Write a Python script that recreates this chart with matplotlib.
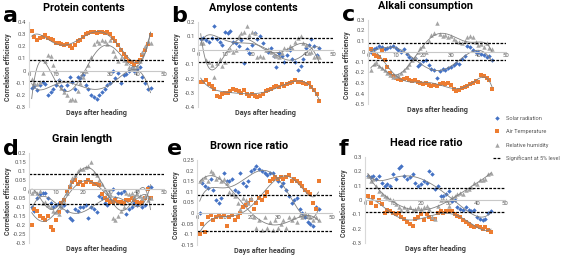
# correlation of rice quality traits with weather after heading (6 panels)
import numpy as np
import matplotlib.pyplot as plt
from matplotlib.lines import Line2D
from matplotlib.ticker import FuncFormatter, MultipleLocator

plt.rcParams['font.family'] = ['Roboto', 'DejaVu Sans']

days = list(range(1, 46))

# a - protein contents
a_solar = [-0.14, -0.13, -0.16, -0.12, -0.09, -0.11, -0.20, -0.18, -0.15, -0.12, -0.08, -0.13, -0.16, -0.12, -0.05,
           -0.09, -0.15, -0.05, -0.06, -0.04, -0.12, -0.15, -0.20, -0.22, -0.23, -0.20, -0.18, -0.15, -0.12, -0.10,
           0.00, -0.06, -0.02, -0.10, -0.04, -0.03, 0.00, 0.02, 0.00, 0.01, 0.03, -0.05, -0.10, -0.15, -0.14]
a_temp = [0.33, 0.28, 0.25, 0.27, 0.28, 0.29, 0.27, 0.26, 0.25, 0.23, 0.23, 0.22, 0.21, 0.22, 0.20,
          0.19, 0.21, 0.24, 0.25, 0.28, 0.30, 0.31, 0.32, 0.32, 0.31, 0.32, 0.32, 0.31, 0.32, 0.30,
          0.27, 0.24, 0.21, 0.17, 0.14, 0.11, 0.08, 0.07, 0.05, 0.07, 0.09, 0.13, 0.17, 0.22, 0.29]
a_hum = [-0.07, -0.10, -0.11, -0.09, -0.02, 0.08, 0.13, 0.12, 0.05, 0.00, -0.08, -0.14, -0.18, -0.20, -0.24,
         -0.23, -0.24, -0.17, -0.10, -0.05, 0.00, 0.05, 0.11, 0.22, 0.24, 0.23, 0.25, 0.24, 0.22, 0.25,
         0.16, 0.12, 0.08, 0.10, 0.09, 0.06, 0.03, 0.02, 0.02, 0.04, 0.08, 0.15, 0.20, 0.24, 0.23]

# b - amylose contents
b_solar = [0.08, 0.09, 0.07, 0.06, 0.09, 0.17, 0.08, 0.06, 0.04, 0.13, 0.12, 0.14, 0.06, 0.05, 0.03,
           0.07, -0.09, 0.01, -0.02, 0.04, 0.12, 0.08, 0.10, 0.05, 0.00, -0.01, 0.02, -0.04, -0.12, -0.02,
           -0.04, -0.08, -0.03, 0.00, -0.06, -0.08, -0.14, -0.11, -0.06, 0.02, 0.04, 0.08, 0.03, -0.03, 0.02]
b_temp = [-0.22, -0.22, -0.21, -0.24, -0.25, -0.27, -0.32, -0.33, -0.31, -0.30, -0.30, -0.29, -0.27, -0.28, -0.29,
          -0.30, -0.28, -0.31, -0.32, -0.31, -0.32, -0.33, -0.32, -0.31, -0.29, -0.28, -0.27, -0.26, -0.25, -0.26,
          -0.24, -0.25, -0.24, -0.23, -0.22, -0.21, -0.22, -0.22, -0.23, -0.24, -0.23, -0.26, -0.28, -0.31, -0.36]
b_hum = [0.05, 0.05, -0.07, -0.08, -0.10, -0.19, -0.09, -0.06, -0.11, -0.08, 0.00, 0.01, -0.01, 0.00, 0.10,
         0.12, 0.13, 0.17, 0.11, 0.13, 0.12, -0.05, -0.04, -0.05, 0.00, 0.01, -0.01, -0.03, -0.04, -0.05,
         -0.02, 0.02, 0.01, 0.03, 0.02, 0.06, 0.09, 0.10, 0.05, 0.04, -0.02, -0.01, -0.05, -0.04, -0.05]

# c - alkali consumption
c_solar = [0.00, 0.02, 0.03, 0.05, 0.04, 0.02, 0.03, 0.04, 0.05, 0.03, 0.01, 0.00, 0.02, -0.02, -0.05,
           -0.07, -0.06, -0.14, -0.12, -0.09, -0.08, -0.13, -0.17, -0.18, -0.25, -0.19, -0.17, -0.18, -0.16, -0.15,
           -0.13, -0.11, -0.12, -0.07, -0.04, 0.05, 0.04, 0.01, 0.00, 0.00, -0.02, -0.03, -0.05, -0.04, -0.08]
c_temp = [0.02, -0.02, -0.04, -0.05, 0.01, -0.08, -0.15, -0.20, -0.23, -0.25, -0.26, -0.27, -0.26, -0.25, -0.27,
          -0.28, -0.27, -0.29, -0.30, -0.31, -0.30, -0.32, -0.33, -0.32, -0.33, -0.31, -0.30, -0.31, -0.30, -0.32,
          -0.36, -0.38, -0.37, -0.35, -0.34, -0.33, -0.31, -0.30, -0.28, -0.29, -0.22, -0.23, -0.25, -0.27, -0.36]
c_hum = [-0.18, -0.12, -0.10, -0.14, -0.16, -0.18, -0.20, -0.22, -0.24, -0.23, -0.22, -0.20, -0.18, -0.15, -0.12,
         -0.08, -0.05, 0.00, 0.03, 0.05, 0.00, 0.10, 0.16, 0.18, 0.27, 0.17, 0.15, 0.16, 0.14, 0.15,
         0.12, 0.10, 0.09, 0.08, 0.10, 0.14, 0.15, 0.14, 0.09, 0.06, 0.07, 0.04, 0.08, 0.03, 0.02]

# d - grain length
d_solar = [-0.10, -0.12, -0.05, -0.03, -0.02, -0.02, -0.05, -0.08, -0.10, -0.09, -0.08, -0.10, -0.09, -0.12, -0.16,
           -0.17, -0.11, -0.12, -0.10, -0.10, -0.09, -0.16, -0.10, -0.11, -0.13, -0.04, -0.05, -0.08, -0.09, -0.06,
           0.00, -0.05, -0.02, -0.02, -0.01, -0.14, -0.11, -0.10, -0.08, -0.09, -0.08, -0.10, -0.09, 0.01, 0.01]
d_temp = [-0.20, -0.11, -0.12, -0.15, -0.16, -0.17, -0.15, -0.21, -0.23, -0.17, -0.13, -0.08, -0.06, -0.01, 0.01,
          0.04, 0.05, 0.03, 0.04, 0.02, 0.04, 0.05, 0.04, 0.03, 0.03, 0.02, -0.03, -0.05, -0.06, -0.07,
          -0.07, -0.06, -0.07, -0.07, -0.08, -0.06, -0.06, -0.05, -0.06, -0.07, -0.08, -0.07, -0.05, 0.00, -0.05]
d_hum = [-0.02, -0.01, -0.02, -0.01, -0.08, -0.07, -0.09, -0.10, -0.12, -0.13, -0.14, -0.10, -0.07, -0.02, 0.03,
         0.06, 0.08, 0.10, 0.11, 0.11, 0.12, 0.13, 0.15, 0.09, 0.08, 0.05, 0.03, 0.00, -0.02, -0.03,
         -0.16, -0.17, -0.15, -0.12, -0.10, -0.02, -0.03, -0.02, -0.04, -0.03, -0.04, -0.05, -0.04, -0.06, -0.05]

# e - brown rice ratio
e_solar = [0.00, 0.14, 0.13, 0.12, 0.16, 0.11, 0.06, 0.05, 0.07, 0.19, 0.15, 0.15, 0.16, 0.11, 0.10,
           0.19, 0.14, 0.13, 0.15, 0.20, 0.21, 0.22, 0.21, 0.20, 0.19, 0.18, 0.19, 0.19, 0.17, 0.15,
           0.13, 0.14, 0.11, 0.08, 0.05, 0.06, 0.07, 0.02, 0.00, -0.02, -0.04, -0.05, -0.06, 0.03, 0.02]
e_temp = [-0.10, -0.05, -0.09, -0.02, -0.01, -0.03, -0.02, -0.01, -0.02, -0.01, -0.06, -0.02, -0.01, -0.03, -0.02,
          0.00, 0.03, 0.04, 0.05, 0.06, 0.02, 0.05, 0.07, 0.06, 0.08, 0.10, 0.15, 0.16, 0.17, 0.16,
          0.17, 0.16, 0.17, 0.18, 0.15, 0.16, 0.15, 0.14, 0.13, 0.11, 0.10, 0.09, 0.05, 0.02, 0.15]
e_hum = [0.15, 0.16, 0.17, 0.15, 0.20, 0.19, 0.16, 0.17, 0.15, 0.16, 0.14, 0.10, 0.09, 0.08, 0.05,
         0.02, 0.07, 0.06, 0.05, 0.07, -0.02, -0.07, -0.03, -0.08, -0.02, -0.07, -0.04, -0.08, -0.03, -0.07,
         -0.05, -0.03, -0.07, -0.02, -0.03, -0.02, -0.04, -0.01, -0.02, 0.00, -0.01, -0.02, -0.03, -0.02, -0.03]

# f - head rice ratio
f_solar = [0.17, 0.16, 0.17, 0.15, 0.17, 0.12, 0.10, 0.11, 0.10, 0.18, 0.15, 0.22, 0.24, 0.17, 0.15,
           0.16, 0.18, 0.12, 0.10, 0.11, 0.13, 0.12, 0.20, 0.18, 0.08, 0.10, 0.03, 0.03, 0.04, 0.06,
           -0.01, 0.00, -0.05, -0.06, -0.07, -0.05, -0.07, -0.08, -0.07, -0.12, -0.13, -0.14, -0.13, -0.09, -0.08]
f_temp = [0.03, -0.02, 0.02, -0.04, 0.00, -0.03, -0.09, -0.07, -0.08, -0.09, -0.10, -0.09, -0.12, -0.13, -0.15,
          -0.17, -0.18, -0.13, -0.12, -0.10, -0.14, -0.10, -0.12, -0.13, -0.13, -0.09, -0.08, -0.09, -0.08, -0.08,
          -0.08, -0.10, -0.11, -0.12, -0.14, -0.15, -0.17, -0.18, -0.19, -0.18, -0.19, -0.20, -0.19, -0.21, -0.22]
f_hum = [0.17, 0.13, 0.15, 0.10, 0.06, 0.04, 0.03, 0.02, 0.01, 0.00, -0.03, -0.05, -0.07, -0.05, -0.06,
         -0.05, -0.07, -0.06, -0.05, -0.06, -0.05, -0.04, -0.06, -0.12, -0.13, -0.04, 0.00, 0.01, 0.00, -0.04,
         0.02, 0.03, 0.04, 0.05, 0.04, 0.07, 0.08, 0.09, 0.12, 0.11, 0.14, 0.14, 0.15, 0.18, 0.19]

letters = ['a', 'b', 'c', 'd', 'e', 'f']
titles = ['Protein contents', 'Amylose contents', 'Alkali consumption',
          'Grain length', 'Brown rice ratio', 'Head rice ratio']
ylims = [(-0.3, 0.4), (-0.4, 0.2), (-0.5, 0.3), (-0.3, 0.2), (-0.15, 0.25), (-0.3, 0.3)]
ysteps = [0.1, 0.1, 0.1, 0.05, 0.05, 0.1]
series = [(a_solar, a_temp, a_hum), (b_solar, b_temp, b_hum), (c_solar, c_temp, c_hum),
          (d_solar, d_temp, d_hum), (e_solar, e_temp, e_hum), (f_solar, f_temp, f_hum)]
sig = 0.085

BLUE = '#4472C4'
ORANGE = '#ED7D31'
GRAY = '#A5A5A5'
TXT = '#595959'

W, H = 567, 256
fig = plt.figure(figsize=(W / 100, H / 100), dpi=100)

# axes boxes in pixels: left(x=0), top, width(0..50), bottom, title centre offset, letter x, letter baseline
boxes = [(29, 22, 135, 107, 55, 3, 22), (198, 22, 135, 107, 55, 171, 22), (368, 20, 138, 104, 57, 342, 21),
         (29, 153, 135, 243, 53, 3, 155), (197, 160, 135, 245, 52, 167, 155), (365, 157, 140, 243, 61, 339, 155)]
fmt = FuncFormatter(lambda v, p: f'{round(v, 2):g}')

for i in range(6):
    x0, top, w, bot, toff, lx, lbase = boxes[i]
    ax = fig.add_axes([x0 / W, 1 - bot / H, w / W, (bot - top) / H])
    ax.set_facecolor('none')
    solar, temp, hum = series[i]
    ax.plot(days, solar, 'D', color=BLUE, ms=2.3, mew=0)
    ax.plot(days, temp, 's', color=ORANGE, ms=3.2, mew=0)
    ax.plot(days, hum, '^', color=GRAY, ms=3.2, mew=0)
    xs = np.linspace(1, 45, 200)
    for ys in (solar, temp, hum):
        coef = np.polyfit(days, ys, 6)
        ax.plot(xs, np.polyval(coef, xs), color='#808080', lw=0.6)
    ax.plot([0, 50], [sig, sig], color='black', lw=0.9, dashes=(2.2, 1.1))
    ax.plot([0, 50], [-sig, -sig], color='black', lw=0.9, dashes=(2.2, 1.1))

    ax.set_xlim(0, 50)
    ax.set_ylim(*ylims[i])
    ax.xaxis.set_major_locator(MultipleLocator(10))
    ax.yaxis.set_major_locator(MultipleLocator(ysteps[i]))
    ax.yaxis.set_major_formatter(fmt)
    ax.spines['bottom'].set_position(('data', 0))
    ax.spines['bottom'].set_color('#c8c8c8')
    ax.spines['left'].set_color('#d9d9d9')
    ax.spines['top'].set_visible(False)
    ax.spines['right'].set_visible(False)
    ax.tick_params(length=0, labelsize=4.3, labelcolor=TXT, pad=2)
    ax.tick_params(axis='x', pad=1)

    cx = (x0 + w / 2) / W
    fig.text((x0 - 21) / W, 1 - ((top + bot) / 2 + 3) / H, 'Correlation efficiency', rotation=90,
             ha='center', va='center', fontsize=5.0, color='#404040', fontweight='bold')
    fig.text(cx, 1 - (bot + 6) / H, 'Days after heading', ha='center', va='center',
             fontsize=5.2, color='#404040', fontweight='bold')
    fig.text((x0 + toff) / W, 1 - (top - 14) / H, titles[i], ha='center', va='center',
             fontsize=7.8, color='black', fontweight='bold')
    fig.text(lx / W, 1 - lbase / H, letters[i], ha='left', va='baseline',
             fontsize=16, fontweight='bold', color='black', family='DejaVu Sans')

handles = [Line2D([], [], ls='none', marker='D', color=BLUE, ms=2.3, mew=0),
           Line2D([], [], ls='none', marker='s', color=ORANGE, ms=3.2, mew=0),
           Line2D([], [], ls='none', marker='^', color=GRAY, ms=3.2, mew=0),
           Line2D([], [], color='black', lw=0.9, dashes=(2.2, 1.1))]
labels = ['Solar radiation', 'Air Temperature', 'Relative humidity', 'Significant at 5% level']
fig.legend(handles, labels, loc='upper left', bbox_to_anchor=(493 / W, 1 - 116 / H), frameon=False,
           fontsize=4.1, labelcolor=TXT, handlelength=1.4, handletextpad=0.8, labelspacing=1.45,
           borderpad=0, borderaxespad=0)

fig.savefig('out.png', dpi=100)
